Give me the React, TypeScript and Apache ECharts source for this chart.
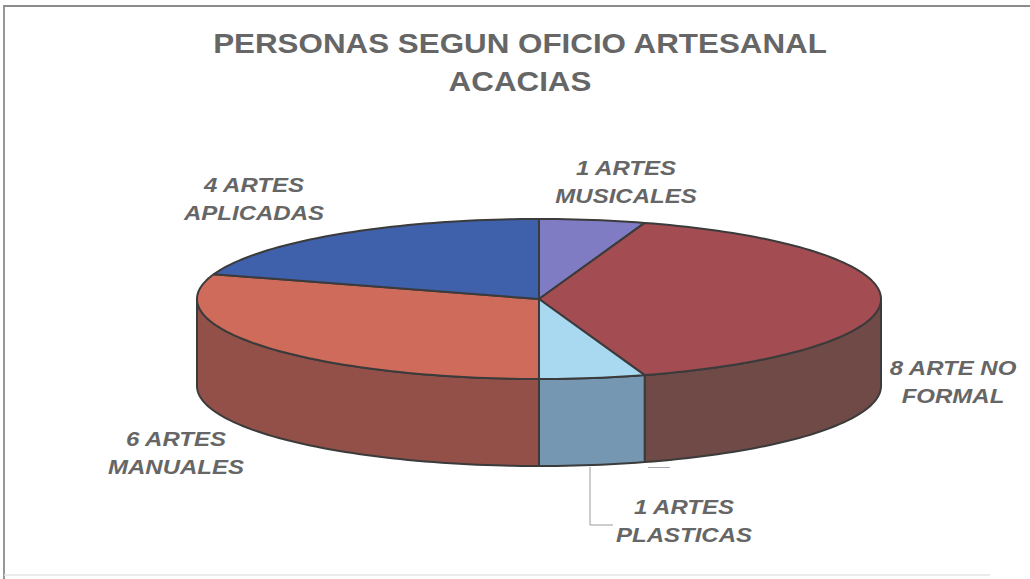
import React, { useEffect, useRef } from "react";
import * as echarts from "echarts";

const titleLines = ["PERSONAS SEGUN OFICIO ARTESANAL", "ACACIAS"];
const categories = ["ARTES MUSICALES", "ARTE NO FORMAL", "ARTES PLASTICAS", "ARTES MANUALES", "ARTES APLICADAS"];
const values = [1, 8, 1, 6, 4];
const labelLines = [
  ["1 ARTES", "MUSICALES"],
  ["8 ARTE NO", "FORMAL"],
  ["1 ARTES", "PLASTICAS"],
  ["6 ARTES", "MANUALES"],
  ["4 ARTES", "APLICADAS"],
];
const topColors = ["#7f7cc4", "#a34c52", "#a9d9f0", "#cf6b5a", "#3f60aa"];
const wallColors = ["#6a68a0", "#6f4a46", "#7697b2", "#935049", "#33508c"];
const labelCenters = [
  [626, 168],
  [953, 368],
  [684, 507],
  [176, 439],
  [254, 185],
];

const CX = 539;
const CY = 299;
const RX = 342;
const RY = 80;
const DEPTH = 87;
const STROKE = "#3b3b3b";
const total = values.reduce((a, b) => a + b, 0);

// Angle measured clockwise from 12 o'clock; projected on a flattened disc.
const pt = (deg: number, dy = 0): number[] => {
  const r = (deg * Math.PI) / 180;
  return [CX + RX * Math.sin(r), CY - RY * Math.cos(r) + dy];
};

const arc = (a0: number, a1: number, dy = 0): number[][] => {
  const n = Math.max(2, Math.ceil(Math.abs(a1 - a0) / 1.5));
  const out: number[][] = [];
  for (let i = 0; i <= n; i++) out.push(pt(a0 + ((a1 - a0) * i) / n, dy));
  return out;
};

const renderItem = (params: any, api: any) => {
  const i = params.dataIndex;
  const before = values.slice(0, i).reduce((a, b) => a + b, 0);
  const a0 = (before / total) * 360;
  const a1 = a0 + (api.value(0) / total) * 360;
  const children: any[] = [];

  const w0 = Math.max(a0, 90);
  const w1 = Math.min(a1, 270);
  if (w1 > w0) {
    children.push({
      type: "polygon",
      shape: { points: [...arc(w0, w1), ...arc(w1, w0, DEPTH)] },
      style: { fill: wallColors[i], stroke: STROKE, lineWidth: 2, lineJoin: "round" },
    });
  }
  children.push({
    type: "polygon",
    shape: { points: [[CX, CY], ...arc(a0, a1)] },
    style: { fill: topColors[i], stroke: STROKE, lineWidth: 2, lineJoin: "round" },
  });
  labelLines[i].forEach((line, k) => {
    children.push({
      type: "text",
      x: labelCenters[i][0],
      y: labelCenters[i][1] + k * 28.5,
      scaleX: 1.2,
      style: {
        text: line,
        fill: "#666666",
        font: "italic bold 20px 'Liberation Sans', Arial, sans-serif",
        textAlign: "center",
        textVerticalAlign: "middle",
      },
    });
  });
  return { type: "group", children };
};

export default function App() {
  const ref = useRef<HTMLDivElement>(null);
  useEffect(() => {
    const chart = echarts.init(ref.current!, null, { renderer: "svg" });
    chart.setOption({
      animation: false,
      backgroundColor: "#ffffff",
      graphic: [
        {
          type: "polyline",
          shape: { points: [[4, 579], [4, 6], [1030, 6]] },
          style: { fill: "none", stroke: "#8c8c8c", lineWidth: 1.8 },
        },
        {
          type: "line",
          shape: { x1: 4, y1: 575, x2: 990, y2: 575 },
          style: { stroke: "#e4e4e4", lineWidth: 1.5 },
        },
        {
          type: "polyline",
          shape: { points: [[590, 467], [590, 525], [613, 525]] },
          style: { fill: "none", stroke: "#9a9a9a", lineWidth: 1 },
          z: 5,
        },
        {
          type: "line",
          shape: { x1: 648, y1: 467.5, x2: 670, y2: 467.5 },
          style: { stroke: "#a6a8b8", lineWidth: 1 },
          z: 5,
        },
        ...titleLines.map((t, k) => ({
          type: "text",
          x: 520,
          y: 43 + k * 38.5,
          scaleX: 1.12,
          style: {
            text: t,
            fill: "#666666",
            font: "bold 28px 'Liberation Sans', Arial, sans-serif",
            textAlign: "center",
            textVerticalAlign: "middle",
          },
        })),
      ],
      xAxis: { show: false },
      yAxis: { show: false },
      series: [
        {
          type: "custom",
          coordinateSystem: "none",
          renderItem,
          data: categories.map((name, i) => ({ name, value: [values[i]] })),
          silent: true,
        },
      ],
    });
    return () => chart.dispose();
  }, []);
  return <div ref={ref} style={{ position: "fixed", left: 0, top: 0, width: 1030, height: 579 }} />;
}
